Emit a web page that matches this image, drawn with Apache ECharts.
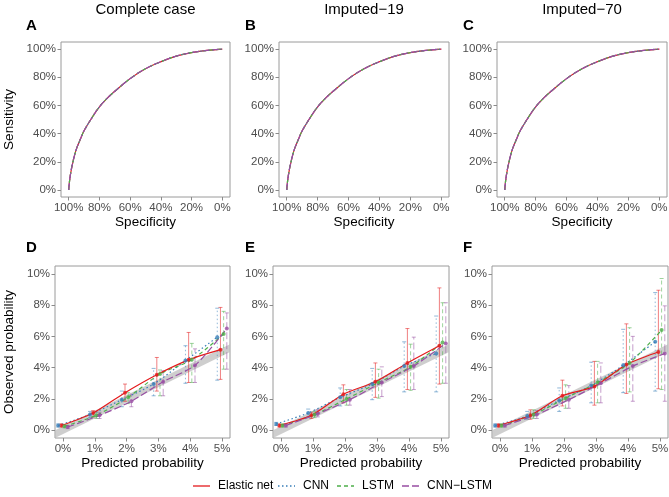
<!DOCTYPE html>
<html>
<head>
<meta charset="utf-8">
<script src="https://cdn.jsdelivr.net/npm/echarts@6/dist/echarts.min.js"></script>
<style>
  html, body { margin: 0; padding: 0; background: #fff; }
  #chart { width: 669px; height: 497px; }
</style>
</head>
<body>
<div id="chart"></div>
<script>
// ---- data ----
const models = ['Elastic net', 'CNN', 'LSTM', 'CNN−LSTM'];
const columnTitles = ['Complete case', 'Imputed−19', 'Imputed−70'];
const panelLetters = ['A', 'B', 'C', 'D', 'E', 'F'];

// ROC curves (all four models overlap)
const rocSpec = [1, 0.99, 0.97, 0.95, 0.92, 0.9, 0.85, 0.8, 0.75, 0.7, 0.6, 0.5, 0.4, 0.3, 0.2, 0.1, 0];
const rocSens = [0, 0.1, 0.21, 0.29, 0.37, 0.42, 0.51, 0.59, 0.65, 0.7, 0.79, 0.86, 0.91, 0.95, 0.975, 0.99, 1];
const rocTicks = [0, 0.2, 0.4, 0.6, 0.8, 1];

// calibration, in %; rows follow `models`
const calBins = [0, 1, 2, 3, 4, 5];
const calTicksY = [0, 2, 4, 6, 8, 10];

const obsD = [[0.3, 1.1, 2.4, 3.55, 4.5, 5.15], [0.3, 1.0, 1.95, 2.95, 4.45, 5.95], [0.25, 0.95, 2.1, 3.6, 4.5, 6.15], [0.2, 0.95, 1.85, 3.1, 4.15, 6.5]];
const loD = [[0.2, 0.85, 1.85, 2.5, 3.05, 3.25], [0.2, 0.8, 1.5, 2.2, 3.0, 3.2], [0.15, 0.75, 1.7, 2.2, 3.05, 3.9], [0.1, 0.75, 1.5, 2.2, 3.05, 3.9]];
const hiD = [[0.4, 1.25, 2.95, 4.65, 6.25, 7.85], [0.4, 1.2, 2.5, 3.95, 5.4, 7.8], [0.35, 1.15, 2.4, 3.85, 5.55, 7.6], [0.3, 1.15, 2.3, 3.8, 5.2, 7.5]];

const obsE = [[0.3, 0.95, 2.3, 3.1, 4.3, 5.4], [0.4, 1.1, 2.1, 2.95, 4.1, 4.9], [0.3, 1.0, 2.0, 3.05, 4.05, 5.6], [0.3, 1.05, 1.95, 3.05, 4.1, 5.55]];
const loE = [[0.2, 0.75, 1.75, 2.1, 2.6, 2.95], [0.3, 0.85, 1.55, 1.95, 2.45, 2.45], [0.2, 0.8, 1.6, 2.05, 2.55, 3.0], [0.2, 0.85, 1.6, 2.15, 2.6, 3.0]];
const hiE = [[0.4, 1.15, 2.9, 4.3, 6.5, 9.1], [0.5, 1.35, 2.7, 3.95, 5.65, 7.3], [0.4, 1.2, 2.6, 3.9, 5.5, 8.15], [0.4, 1.3, 2.6, 4.05, 5.95, 8.15]];

const obsF = [[0.3, 0.95, 2.2, 2.8, 4.2, 5.0], [0.3, 0.9, 1.9, 2.85, 4.15, 5.65], [0.3, 1.0, 2.05, 3.05, 4.3, 6.4], [0.3, 1.0, 1.95, 3.0, 4.1, 4.9]];
const loF = [[0.2, 0.7, 1.55, 1.6, 2.35, 2.65], [0.2, 0.7, 1.2, 1.75, 2.4, 2.5], [0.2, 0.75, 1.4, 1.75, 2.45, 2.6], [0.2, 0.75, 1.4, 1.75, 1.85, 1.85]];
const hiF = [[0.4, 1.3, 3.2, 4.4, 6.8, 8.95], [0.4, 1.2, 2.7, 4.35, 6.45, 8.8], [0.4, 1.3, 2.9, 4.4, 6.55, 9.7], [0.4, 1.25, 2.85, 4.3, 6.0, 7.95]];

// grey reference band
const bandX = [-0.25, 5.25];
const bandLo = [-0.5, 5.0];
const bandHi = [0.0, 5.5];

// ---- styles ----
const colors = ['#E41A1C', '#377EB8', '#4DAF4A', '#984EA3'];
const barColors = ['rgba(228,26,28,0.55)', 'rgba(55,126,184,0.55)', 'rgba(77,175,74,0.55)', 'rgba(152,78,163,0.55)'];
const dashes = ['solid', [1.5, 2.5], [4, 3], [7, 3]];
const dodge = [-0.05, -0.15, 0.05, 0.15];
const FONT = 'Liberation Sans, Arial, sans-serif';

const gridRects = [
  [61, 42, 169, 155], [279, 42, 170, 155], [497, 42, 170, 155],
  [55, 266, 175, 172], [273, 266, 176, 172], [492, 266, 176, 172]
];

const chart = echarts.init(document.getElementById('chart'));

const labelStyle = { color: '#4D4D4D', fontSize: 11.5, fontFamily: FONT };
const tickStyle = { show: true, length: 3.5, lineStyle: { color: '#8A8A8A', width: 1 } };

const grids = gridRects.map(r => ({
  left: r[0], top: r[1], width: r[2], height: r[3],
  containLabel: false, outerBoundsMode: 'none',
  show: true, borderColor: '#9A9A9A', borderWidth: 1, backgroundColor: 'transparent'
}));

const xAxes = [], yAxes = [];
for (let i = 0; i < 6; i++) {
  const roc = i < 3;
  const fmt = v => roc ? Math.round(v * 100) + '%' : Math.round(v) + '%';
  xAxes.push({
    gridIndex: i, type: 'value', position: 'bottom',
    min: roc ? -0.05 : -0.25, max: roc ? 1.05 : 5.25,
    inverse: roc,
    axisLine: { show: false, onZero: false },
    splitLine: { show: false },
    axisTick: Object.assign({ customValues: roc ? rocTicks : calBins }, tickStyle),
    axisLabel: Object.assign({ customValues: roc ? rocTicks : calBins, margin: 5, formatter: fmt }, labelStyle)
  });
  yAxes.push({
    gridIndex: i, type: 'value', position: 'left',
    min: roc ? -0.05 : -0.5, max: roc ? 1.05 : 10.5,
    axisLine: { show: false, onZero: false },
    splitLine: { show: false },
    axisTick: Object.assign({ customValues: roc ? rocTicks : calTicksY }, tickStyle),
    axisLabel: Object.assign({ customValues: roc ? rocTicks : calTicksY, margin: 5, formatter: fmt }, labelStyle)
  });
}

const series = [];

// ROC panels
for (let p = 0; p < 3; p++) {
  models.forEach((m, k) => {
    series.push({
      type: 'line', name: m, xAxisIndex: p, yAxisIndex: p,
      data: rocSpec.map((s, i) => [s, rocSens[i]]),
      symbol: 'none', smooth: 0.4, silent: true,
      itemStyle: { color: colors[k] },
      lineStyle: { color: colors[k], width: 1.2, type: dashes[k] },
      z: 3 + k
    });
  });
}

function errorBars(k) {
  return function (params, api) {
    const x = api.value(0);
    const a = api.coord([x, api.value(1)]);
    const b = api.coord([x, api.value(2)]);
    const style = { stroke: barColors[k], lineWidth: 1, lineDash: dashes[k] === 'solid' ? null : dashes[k], fill: null };
    const capStyle = { stroke: barColors[k], lineWidth: 1 };
    const cap = 2;
    return {
      type: 'group',
      children: [
        { type: 'line', shape: { x1: a[0], y1: a[1], x2: b[0], y2: b[1] }, style },
        { type: 'line', shape: { x1: b[0] - cap, y1: b[1], x2: b[0] + cap, y2: b[1] }, style: capStyle },
        { type: 'line', shape: { x1: a[0] - cap, y1: a[1], x2: a[0] + cap, y2: a[1] }, style: capStyle }
      ]
    };
  };
}

const calSets = [[obsD, loD, hiD], [obsE, loE, hiE], [obsF, loF, hiF]];
calSets.forEach(([obs, lo, hi], j) => {
  const g = 3 + j;
  series.push({
    type: 'custom', name: 'band', xAxisIndex: g, yAxisIndex: g, silent: true, clip: true,
    data: bandX.map((x, i) => [x, bandLo[i], bandHi[i]]),
    encode: { x: 0, y: [1, 2] },
    renderItem: (params, api) => {
      if (params.dataIndex !== 0) return null;
      const pts = [];
      bandX.forEach((x, i) => pts.push(api.coord([x, bandLo[i]])));
      for (let i = bandX.length - 1; i >= 0; i--) pts.push(api.coord([bandX[i], bandHi[i]]));
      return { type: 'polygon', shape: { points: pts }, style: { fill: 'rgba(190,190,190,0.75)', stroke: null } };
    },
    z: 1
  });
  models.forEach((m, k) => {
    const xs = calBins.map(b => b + dodge[k]);
    series.push({
      type: 'custom', name: m + ' CI', xAxisIndex: g, yAxisIndex: g, silent: true,
      data: xs.map((x, i) => [x, lo[k][i], hi[k][i]]),
      encode: { x: 0, y: [1, 2] },
      renderItem: errorBars(k),
      z: 2
    });
    series.push({
      type: 'line', name: m, xAxisIndex: g, yAxisIndex: g, silent: true,
      data: xs.map((x, i) => [x, obs[k][i]]),
      symbol: 'none', smooth: 0.25,
      itemStyle: { color: colors[k] },
      lineStyle: { color: colors[k], width: 1.2, type: dashes[k] },
      z: k === 0 ? 6 : 3 + k
    });
    series.push({
      type: 'scatter', name: m + ' pts', xAxisIndex: g, yAxisIndex: g, silent: true,
      data: xs.map((x, i) => [x, obs[k][i]]),
      symbolSize: 4, itemStyle: { color: colors[k] },
      z: 7
    });
  });
});

const graphic = [];
const colCenters = [145.5, 364, 582];
columnTitles.forEach((t, i) => graphic.push({
  type: 'text', x: colCenters[i], y: 10,
  style: { text: t, fontSize: 15, fontFamily: FONT, fill: '#000', align: 'center', verticalAlign: 'middle' }
}));
const letterX = [26, 245, 463];
panelLetters.forEach((t, i) => graphic.push({
  type: 'text', x: letterX[i % 3], y: i < 3 ? 26 : 248,
  style: { text: t, fontSize: 15, fontWeight: 'bold', fontFamily: FONT, fill: '#000', align: 'left', verticalAlign: 'middle' }
}));
gridRects.forEach((r, i) => graphic.push({
  type: 'text', x: r[0] + r[2] / 2, y: i < 3 ? 222 : 463,
  style: { text: i < 3 ? 'Specificity' : 'Predicted probability', fontSize: 13.5, fontFamily: FONT, fill: '#000', align: 'center', verticalAlign: 'middle' }
}));
graphic.push({
  type: 'text', x: 9, y: 119.5, rotation: Math.PI / 2,
  style: { text: 'Sensitivity', fontSize: 13.5, fontFamily: FONT, fill: '#000', align: 'center', verticalAlign: 'middle' }
});
graphic.push({
  type: 'text', x: 9, y: 352, rotation: Math.PI / 2,
  style: { text: 'Observed probability', fontSize: 13.5, fontFamily: FONT, fill: '#000', align: 'center', verticalAlign: 'middle' }
});

// legend drawn by hand so each key keeps its line type
const legendKeyX = [193, 278, 337, 402];
models.forEach((m, k) => {
  const x = legendKeyX[k];
  graphic.push({
    type: 'line', shape: { x1: x, y1: 486, x2: x + 17, y2: 486 },
    style: { stroke: colors[k], lineWidth: 1.3, lineDash: dashes[k] === 'solid' ? null : dashes[k] }
  });
  graphic.push({
    type: 'text', x: x + 25, y: 486,
    style: { text: m, fontSize: 12, fontFamily: FONT, fill: '#000', align: 'left', verticalAlign: 'middle' }
  });
});

chart.setOption({
  animation: false,
  backgroundColor: '#fff',
  grid: grids,
  xAxis: xAxes,
  yAxis: yAxes,
  graphic: graphic,
  series: series
});
</script>
</body>
</html>
